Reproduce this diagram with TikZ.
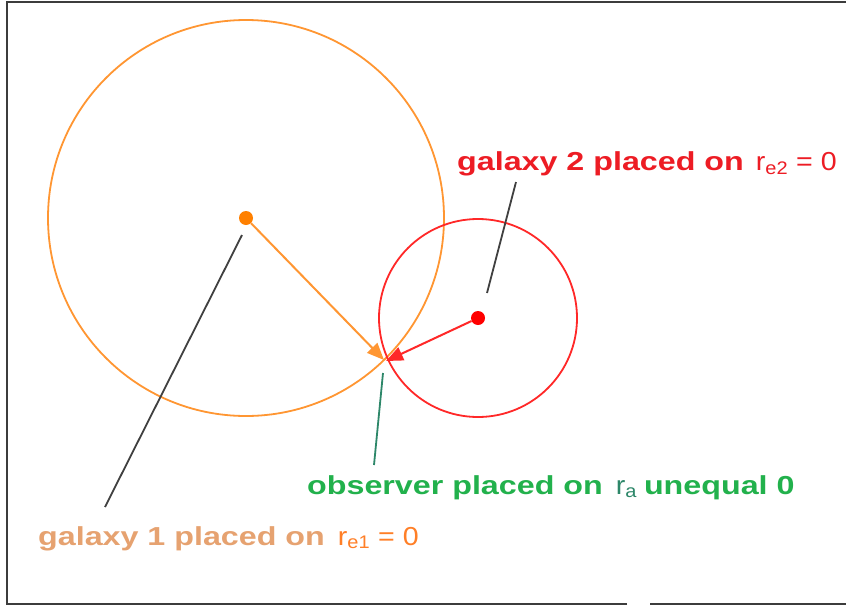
\documentclass[tikz,border=0pt]{standalone}
\usepackage{fontspec}
\setmainfont{Liberation Sans}
\usetikzlibrary{arrows.meta}
\definecolor{redtxt}{RGB}{237,28,36}
\definecolor{greentxt}{RGB}{34,177,76}
\definecolor{tantxt}{RGB}{230,162,112}
\definecolor{orangetxt}{RGB}{255,127,39}
\definecolor{tealtxt}{RGB}{45,135,105}
\definecolor{orangec}{RGB}{255,150,50}
\definecolor{orangedot}{RGB}{255,128,0}
\definecolor{redc}{RGB}{255,40,40}
\definecolor{framec}{RGB}{60,60,60}
\newcommand{\wide}[1]{\scalebox{1.24}[1]{#1}}
\newcommand{\semi}[1]{\scalebox{1.1}[1]{#1}}
\begin{document}
\begin{tikzpicture}[x=1pt,y=-1pt,
  lab/.style={anchor=base west,inner sep=0pt,font=\fontsize{26}{30}\selectfont},
  leader/.style={line width=1.8pt,black!75},
  circ/.style={line width=1.8pt},
  dotst/.style={circle,inner sep=0pt,minimum size=14pt},
  arr/.style={line width=2pt,-{Triangle[length=17pt,width=14pt]}}]
\useasboundingbox (0,0) rectangle (846,608);
\fill[white] (0,0) rectangle (846,608);
% frame
\draw[framec,line width=2.4pt] (627,604) -- (7,604) -- (7,2) -- (846,2);
\draw[framec,line width=2.4pt] (650,604) -- (846,604);
% circles
\node[draw=orangec,circ,circle,minimum size=396pt,inner sep=0pt] (c1) at (246,218) {};
\node[draw=redc,circ,circle,minimum size=198pt,inner sep=0pt] (c2) at (478,318) {};
% dots
\node[dotst,fill=orangedot] (g1) at (246,218) {};
\node[dotst,fill=red] (g2) at (478,318) {};
% observer point
\coordinate (o1) at (384,360);
\coordinate (o2) at (386,361);
\draw[arr,orangec,fill=orangedot] (g1) -- (o1);
\draw[arr,redc,fill=red] (g2) -- (o2);
% labels
\node[lab,text=redtxt] (t2) at (457,170) {\wide{\textbf{galaxy 2 placed on}}\hspace{12pt}\semi{r\textsubscript{e2} = 0}};
\node[lab,text=greentxt] (to) at (307,494) {\wide{\textbf{observer placed on}}\hspace{13pt}\semi{\color{tealtxt}r\textsubscript{a}}\hspace{7pt}\wide{\textbf{unequal 0}}};
\node[lab,text=tantxt] (t1) at (38,545) {\wide{\textbf{galaxy 1 placed on}}\hspace{13pt}\semi{\color{orangetxt}r\textsubscript{e1} = 0}};
% leader lines
\coordinate (l2a) at (516,182);
\coordinate (l2b) at (487,293);
\draw[leader] (l2a) -- (l2b);
\coordinate (l1a) at (242,235);
\coordinate (l1b) at (105,507);
\draw[leader] (l1a) -- (l1b);
\coordinate (loa) at (383,373);
\coordinate (lob) at (374,465);
\draw[line width=1.8pt,tealtxt] (loa) -- (lob);
\end{tikzpicture}
\end{document}
